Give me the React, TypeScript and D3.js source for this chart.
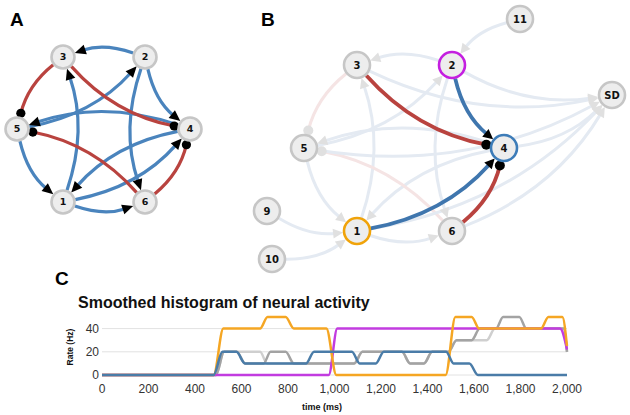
import React from 'react';
import * as d3 from 'd3';

// ---------- data ----------
const neuronIds = ['1', '2', '3', '4', '5', '6'];
const networkEdges: [string, string, 'exc' | 'inh'][] = [
  ['2', '3', 'exc'], ['2', '4', 'exc'], ['2', '6', 'exc'], ['1', '3', 'exc'],
  ['5', '2', 'exc'], ['4', '5', 'exc'], ['4', '1', 'exc'], ['1', '4', 'exc'],
  ['5', '1', 'exc'], ['1', '6', 'exc'],
  ['3', '5', 'inh'], ['3', '4', 'inh'], ['6', '5', 'inh'], ['6', '4', 'inh'],
];
const highlightedEdges = ['3-4', '2-4', '1-4', '6-4'];
const inputIds = ['9', '10', '11'];
const inputEdges: [string, string][] = [['11', '2'], ['9', '1'], ['10', '1']];
const sdSources = ['3', '2', '5', '4', '1', '6'];
const outputId = 'SD';

const chartTitle = 'Smoothed histogram of neural activity';
const xTicks = [0, 200, 400, 600, 800, 1000, 1200, 1400, 1600, 1800, 2000];
const yTicks = [0, 20, 40];

const lightGrayT = [0, 490, 525, 680, 710, 1085, 1120, 1290, 1325, 1385, 1420, 1490, 1525, 1655, 1690, 1985, 2000];
const lightGrayV = [0, 0, 20, 20, 10, 10, 20, 20, 10, 10, 20, 20, 30, 30, 40, 40, 20];
const darkGrayT = [0, 490, 525, 580, 615, 695, 725, 790, 825, 1085, 1120, 1290, 1325, 1385, 1420, 1490, 1525, 1590, 1625, 1695, 1725, 1795, 1825, 1985, 2000];
const darkGrayV = [0, 0, 20, 20, 10, 10, 20, 20, 10, 10, 20, 20, 10, 10, 20, 20, 30, 30, 40, 40, 50, 50, 40, 40, 20];
const magentaT = [0, 975, 1012, 1970, 2000];
const magentaV = [0, 0, 40, 40, 22];
const orangeT = [0, 480, 522, 680, 712, 790, 825, 965, 1008, 1478, 1520, 1590, 1622, 1888, 1920, 1980, 2000];
const orangeV = [0, 0, 40, 40, 50, 50, 40, 40, 0, 0, 50, 50, 40, 40, 50, 50, 25];
const blueT = [0, 480, 518, 578, 615, 878, 912, 1075, 1108, 1178, 1212, 1480, 1512, 1580, 1617, 2000];
const blueV = [0, 0, 20, 20, 10, 10, 20, 20, 10, 10, 20, 20, 10, 10, 0, 0];

// ---------- layout / style ----------
type P = [number, number];
const layoutA: Record<string, P> = {
  '3': [63, 57], '2': [145, 57], '5': [17, 129], '4': [190, 129], '1': [63, 202], '6': [145, 202],
};
const layoutB: Record<string, P> = {
  '3': [357, 65], '2': [452, 65], '11': [520, 19], 'SD': [612, 95], '5': [304, 148],
  '4': [504, 148], '9': [267, 211], '1': [357, 231], '10': [272, 259], '6': [452, 231],
};
const BLUE = '#4a84bd';
const RED = '#b9433f';
const BLUE_B = '#3f76ae';
const FAINT_BLUE = '#e4eaf2';
const FAINT_RED = '#f5e4e4';
const FAINT_HEAD = '#e0e0e0';
const nodeStrokeB: Record<string, string> = { '2': '#c41fe0', '4': '#3d7cb8', '1': '#f0a30a' };
const BEND = 0.085;

function edgeGeom(s: P, t: P, rs: number, rt: number, kind: 'exc' | 'inh', aLen: number, aW: number, dotR: number) {
  const dx = t[0] - s[0], dy = t[1] - s[1];
  const L = Math.hypot(dx, dy);
  const nx = -dy / L, ny = dx / L;
  const b = BEND * L * 2;
  const c: P = [(s[0] + t[0]) / 2 + nx * b, (s[1] + t[1]) / 2 + ny * b];
  const us = [c[0] - s[0], c[1] - s[1]];
  const usl = Math.hypot(us[0], us[1]);
  const ut = [c[0] - t[0], c[1] - t[1]];
  const utl = Math.hypot(ut[0], ut[1]);
  const u0 = [us[0] / usl, us[1] / usl];
  const u1 = [ut[0] / utl, ut[1] / utl];
  const start: P = [s[0] + u0[0] * (rs + 1), s[1] + u0[1] * (rs + 1)];
  let end: P;
  let head: any;
  if (kind === 'exc') {
    const tip: P = [t[0] + u1[0] * (rt + 1), t[1] + u1[1] * (rt + 1)];
    const base: P = [t[0] + u1[0] * (rt + 1 + aLen), t[1] + u1[1] * (rt + 1 + aLen)];
    const px = -u1[1], py = u1[0];
    head = { type: 'arrow', pts: [tip, [base[0] + px * aW / 2, base[1] + py * aW / 2], [base[0] - px * aW / 2, base[1] - py * aW / 2]] };
    end = [t[0] + u1[0] * (rt + aLen - 1), t[1] + u1[1] * (rt + aLen - 1)];
  } else {
    const cc: P = [t[0] + u1[0] * (rt + dotR), t[1] + u1[1] * (rt + dotR)];
    head = { type: 'dot', c: cc, r: dotR };
    end = cc;
  }
  const path = d3.path();
  path.moveTo(start[0], start[1]);
  path.quadraticCurveTo(c[0], c[1], end[0], end[1]);
  return { d: path.toString(), head };
}

function Head({ h, color }: { h: any; color: string }) {
  if (h.type === 'arrow') {
    return <polygon points={h.pts.map((p: P) => p.join(',')).join(' ')} fill={color} />;
  }
  return <circle cx={h.c[0]} cy={h.c[1]} r={h.r} fill={color} />;
}

function Node({ p, label, r, stroke, fs }: { p: P; label: string; r: number; stroke: string; fs: number }) {
  return (
    <g>
      <circle cx={p[0]} cy={p[1]} r={r} fill="#ededed" stroke={stroke} strokeWidth={2.6} />
      <text x={p[0]} y={p[1]} dy="0.36em" textAnchor="middle" fontFamily="DejaVu Sans" fontWeight="bold" fontSize={fs} fill="#111">{label}</text>
    </g>
  );
}

export default function App() {
  const rA = 11.5, rB = 13;
  const x = d3.scaleLinear().domain([0, 2000]).range([102, 567]);
  const y = d3.scaleLinear().domain([0, 50]).range([375, 317]);
  const mk = (T: number[], V: number[]) => d3.line<number>().x((_, i) => x(T[i])).y((v) => y(v)).curve(d3.curveMonotoneX)(V) || '';
  const series = [
    { T: lightGrayT, V: lightGrayV, c: '#cfcfcf' },
    { T: darkGrayT, V: darkGrayV, c: '#a3a3a3' },
    { T: magentaT, V: magentaV, c: '#c23ce0' },
    { T: orangeT, V: orangeV, c: '#f5a623' },
    { T: blueT, V: blueV, c: '#4a7ca8' },
  ];

  // panel B edges
  const bFaint: any[] = [];
  const bHigh: any[] = [];
  networkEdges.forEach(([s, t, k]) => {
    const g = edgeGeom(layoutB[s], layoutB[t], rB, rB, k, 10, 10, 5);
    const hi = highlightedEdges.includes(`${s}-${t}`);
    (hi ? bHigh : bFaint).push({ g, k });
  });
  inputEdges.forEach(([s, t]) => bFaint.push({ g: edgeGeom(layoutB[s], layoutB[t], rB, rB, 'exc', 10, 10, 5), k: 'exc' }));
  sdSources.forEach((s) => bFaint.push({ g: edgeGeom(layoutB[s], layoutB[outputId], rB, rB, 'exc', 10, 10, 5), k: 'exc' }));

  return (
    <svg width={630} height={415} style={{ position: 'absolute', left: 0, top: 0, background: '#fff' }}>
      {/* panel labels */}
      <g fontFamily="Liberation Sans, Arial, sans-serif" fontWeight="bold" fontSize={19} fill="#000">
        <text x={10} y={26}>A</text>
        <text x={261} y={26}>B</text>
        <text x={55} y={285}>C</text>
      </g>

      {/* Panel A */}
      <g>
        {networkEdges.map(([s, t, k], i) => {
          const g = edgeGeom(layoutA[s], layoutA[t], rA, rA, k, 11, 10, 4.6);
          return <path key={i} d={g.d} fill="none" stroke={k === 'exc' ? BLUE : RED} strokeWidth={3.2} />;
        })}
        {networkEdges.map(([s, t, k], i) => {
          const g = edgeGeom(layoutA[s], layoutA[t], rA, rA, k, 11, 10, 4.6);
          return <Head key={i} h={g.head} color="#000" />;
        })}
        {neuronIds.map((id) => <Node key={id} p={layoutA[id]} label={id} r={rA} stroke="#c6c6c6" fs={9.5} />)}
      </g>

      {/* Panel B */}
      <g>
        {bFaint.map((e, i) => <path key={'f' + i} d={e.g.d} fill="none" stroke={e.k === 'exc' ? FAINT_BLUE : FAINT_RED} strokeWidth={3} />)}
        {bFaint.map((e, i) => <Head key={'fh' + i} h={e.g.head} color={FAINT_HEAD} />)}
        {bHigh.map((e, i) => <path key={'h' + i} d={e.g.d} fill="none" stroke={e.k === 'exc' ? BLUE_B : RED} strokeWidth={3.8} />)}
        {bHigh.map((e, i) => <Head key={'hh' + i} h={e.g.head} color="#000" />)}
        {[...neuronIds, ...inputIds, outputId].map((id) => (
          <Node key={id} p={layoutB[id]} label={id} r={rB} stroke={nodeStrokeB[id] || '#c6c6c6'} fs={10} />
        ))}
      </g>

      {/* Panel C */}
      <g fontFamily="Liberation Sans, Arial, sans-serif">
        <text x={78} y={308} fontWeight="bold" fontSize={16} fill="#111">{chartTitle}</text>
        {yTicks.map((v) => (
          <g key={v}>
            <line x1={x(0)} x2={x(2000)} y1={y(v)} y2={y(v)} stroke="#e2e2e2" strokeWidth={1} />
            <text x={99} y={y(v)} dy="0.35em" textAnchor="end" fontSize={12} fill="#333">{v}</text>
          </g>
        ))}
        {xTicks.map((v) => (
          <text key={v} x={x(v)} y={393} textAnchor="middle" fontSize={12} fill="#333">{d3.format(',')(v)}</text>
        ))}
        <text x={322} y={410} textAnchor="middle" fontSize={9} fontWeight="bold" fill="#111">time (ms)</text>
        <text transform="translate(73,347) rotate(-90)" textAnchor="middle" fontSize={8.5} fontWeight="bold" fill="#111">Rate (Hz)</text>
        {series.map((s, i) => (
          <path key={i} d={mk(s.T, s.V)} fill="none" stroke={s.c} strokeWidth={2.5} />
        ))}
      </g>
    </svg>
  );
}
